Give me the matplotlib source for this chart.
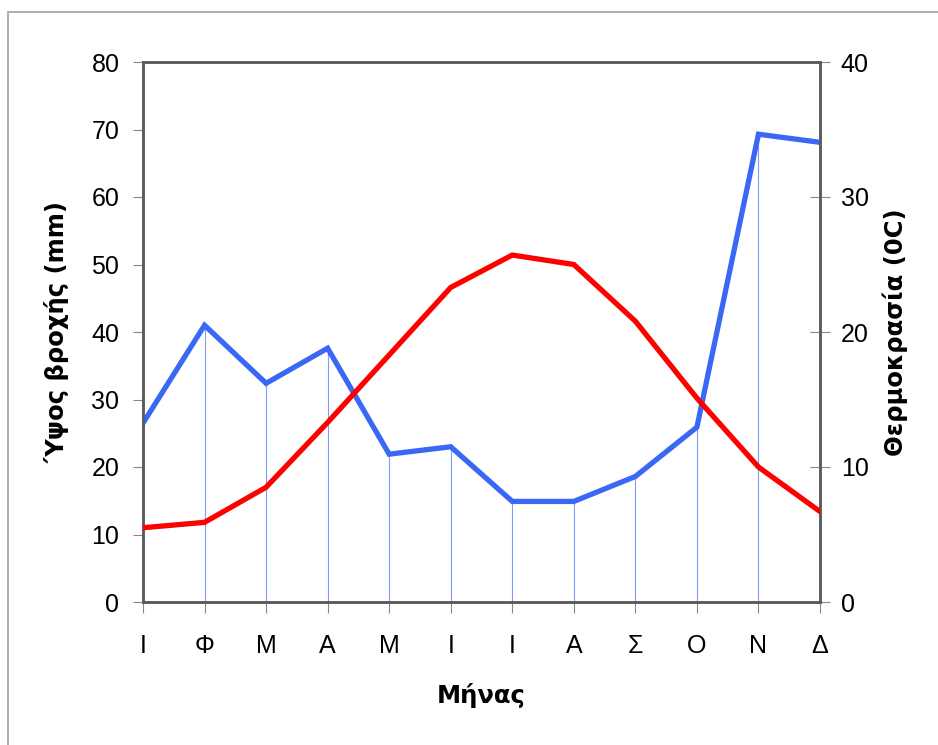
import matplotlib.pyplot as plt
from matplotlib.patches import Rectangle

plt.rcParams['font.family'] = ['Liberation Sans', 'DejaVu Sans']

# monthly data
months = ['Ι', 'Φ', 'Μ', 'Α', 'Μ', 'Ι', 'Ι', 'Α', 'Σ', 'Ο', 'Ν', 'Δ']
rain = [26.5, 41.0, 32.4, 37.6, 21.9, 23.0, 14.9, 14.9, 18.6, 25.9, 69.3, 68.1]
temp = [5.5, 5.9, 8.5, 13.3, 18.3, 23.3, 25.7, 25.0, 20.8, 15.1, 10.0, 6.7]

x = list(range(len(months)))
blue = '#3a68f5'
red = '#ff0000'
spine_col = '#5a5a5a'

fig = plt.figure(figsize=(9.38, 7.45), dpi=100)
fig.patches.append(Rectangle((8 / 938, -0.05), 1.0, 1 - 12 / 745 + 0.05,
                             transform=fig.transFigure, fill=False,
                             edgecolor='#a0a0a0', linewidth=1.2))

ax = fig.add_axes([143 / 938, 1 - 602 / 745, 677 / 938, 540 / 745])
ax2 = ax.twinx()

# drop lines from the rainfall points
ax.vlines(x, 0, rain, colors='#7f9cff', linewidth=0.8, zorder=1)
ax.plot(x, rain, color=blue, linewidth=3.8, zorder=3, solid_joinstyle='miter')
ax2.plot(x, temp, color=red, linewidth=3.8, zorder=3, solid_joinstyle='miter')

ax.set_xlim(0, 11)
ax.set_ylim(0, 80)
ax2.set_ylim(0, 40)
ax.set_yticks(range(0, 81, 10))
ax2.set_yticks(range(0, 41, 10))
ax.set_xticks(x)
ax.set_xticklabels(months)

for a in (ax, ax2):
    for s in a.spines.values():
        s.set_color(spine_col)
        s.set_linewidth(1.8)

ax.tick_params(axis='y', direction='out', length=7, width=0.8, color='#888888',
               labelsize=18, pad=10)
ax.tick_params(axis='x', direction='out', length=8, width=0.8, color='#888888',
               labelsize=18, pad=15)
ax2.tick_params(axis='y', direction='inout', length=14, width=0.8, color='#888888',
                labelsize=18, pad=8)

ax.set_ylabel('Ύψος βροχής (mm)', fontsize=17.5, fontweight='bold',
              family=['DejaVu Sans'], labelpad=16)
ax2.set_ylabel('Θερμοκρασία (0C)', fontsize=17.5, fontweight='bold',
               family=['DejaVu Sans'], labelpad=10)
ax.set_xlabel('Μήνας', fontsize=17.5, fontweight='bold',
              family=['DejaVu Sans'], labelpad=18)

fig.savefig('out.png', dpi=100)
